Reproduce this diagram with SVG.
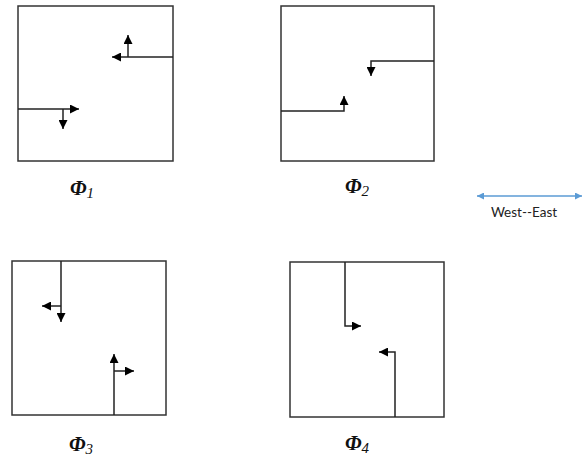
<svg xmlns="http://www.w3.org/2000/svg" width="588" height="464" viewBox="0 0 588 464">
  <defs>
    <marker id="head" markerUnits="userSpaceOnUse" markerWidth="10" markerHeight="9" refX="9" refY="4.5" orient="auto">
      <path d="M0,0 L9,4.5 L0,9 z" fill="#000"/>
    </marker>
    <marker id="blueHead" markerUnits="userSpaceOnUse" markerWidth="8" markerHeight="7" refX="7" refY="3.5" orient="auto-start-reverse">
      <path d="M0,0 L7,3.5 L0,7 z" fill="#5B9BD5"/>
    </marker>
    <style>
      .frame { fill: #fff; stroke: #333; stroke-width: 1.5; }
      .flow { fill: none; stroke: #222; stroke-width: 1.5; marker-end: url(#head); }
      .phi { font-family: "Liberation Serif", "Times New Roman", serif; font-style: italic; font-weight: bold; font-size: 21px; fill: #111; }
      .sub { font-family: "Liberation Serif", "Times New Roman", serif; font-style: italic; font-weight: normal; font-size: 15px; fill: #111; }
      .legend { font-family: Lato, "Liberation Sans", sans-serif; font-size: 13.5px; fill: #222; }
    </style>
  </defs>

  <!-- Phase 1 -->
  <g id="phase1">
    <rect class="frame" x="18" y="6" width="155" height="155"/>
    <text class="phi" x="70" y="195">Φ<tspan class="sub" dy="3">1</tspan></text>
  </g>
  <!-- Phase 2 -->
  <g id="phase2">
    <rect class="frame" x="281" y="6" width="153" height="155"/>
    <text class="phi" x="345" y="193">Φ<tspan class="sub" dy="3">2</tspan></text>
  </g>
  <!-- Phase 3 -->
  <g id="phase3">
    <rect class="frame" x="12" y="261" width="154" height="154"/>
    <text class="phi" x="69" y="451">Φ<tspan class="sub" dy="3">3</tspan></text>
  </g>
  <!-- Phase 4 -->
  <g id="phase4">
    <rect class="frame" x="290" y="262" width="154" height="155"/>
    <text class="phi" x="345" y="450">Φ<tspan class="sub" dy="3">4</tspan></text>
  </g>

  <!-- Movement arrows -->
  <g id="connectors">
    <path class="flow" d="M173,57 H112"/>
    <path class="flow" d="M128,57 V35"/>
    <path class="flow" d="M18,109 H79"/>
    <path class="flow" d="M63,109 V129"/>

    <path class="flow" d="M434,61 H371 V76"/>
    <path class="flow" d="M281,111 H344 V96"/>

    <path class="flow" d="M61,261 V322"/>
    <path class="flow" d="M61,306 H42"/>
    <path class="flow" d="M114,415 V354"/>
    <path class="flow" d="M114,371 H134"/>

    <path class="flow" d="M345,262 V326 H361"/>
    <path class="flow" d="M395,417 V352 H379"/>
  </g>

  <!-- Orientation legend -->
  <g id="legend">
    <line x1="477" y1="196" x2="582" y2="196" stroke="#5B9BD5" stroke-width="1.5" marker-start="url(#blueHead)" marker-end="url(#blueHead)"/>
    <text class="legend" x="524" y="217" text-anchor="middle">West--East</text>
  </g>
</svg>
